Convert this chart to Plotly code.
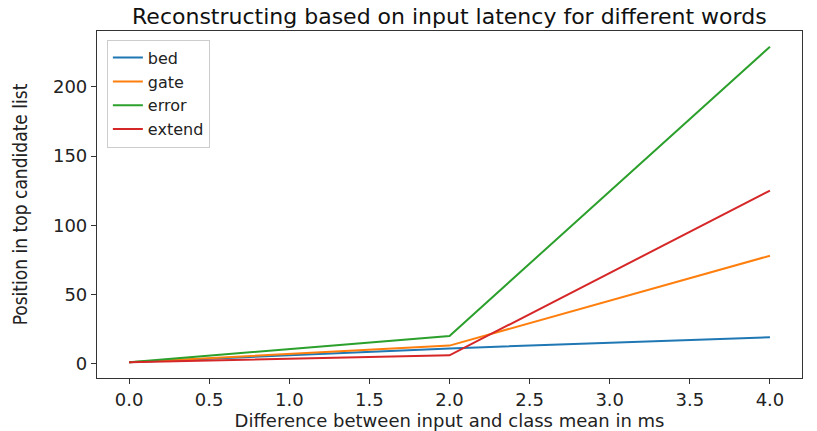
import plotly.graph_objects as go

x_vals = [0.0, 2.0, 4.0]
bed = [1, 11, 19]
gate = [1, 13, 78]
error = [1, 20, 229]
extend = [1, 6, 125]

series = [("bed", bed, "#1f77b4"), ("gate", gate, "#ff7f0e"),
          ("error", error, "#2ca02c"), ("extend", extend, "#d62728")]

fig = go.Figure()
for name, vals, color in series:
    fig.add_trace(go.Scatter(x=x_vals, y=vals, mode="lines", name=name,
                             line=dict(color=color, width=2)))

axis_common = dict(showline=True, linecolor="#333", linewidth=1.2, mirror=True,
                   ticks="outside", ticklen=5, tickcolor="#333", showgrid=False,
                   zeroline=False, automargin=False,
                   tickfont=dict(family="DejaVu Sans", size=18, color="#222"))

fig.update_layout(
    width=817, height=431,
    margin=dict(l=97, r=15, t=31, b=53),
    plot_bgcolor="white", paper_bgcolor="white",
    title=dict(text="Reconstructing based on input latency for different words",
               font=dict(family="DejaVu Sans", size=22, color="#111"),
               x=0.55, xanchor="center", y=0.962, yanchor="middle"),
    xaxis=dict(range=[-0.2, 4.2], dtick=0.5, tick0=0, tickformat=".1f",
               title=dict(text="Difference between input and class mean in ms",
                          font=dict(family="DejaVu Sans", size=18, color="#222"), standoff=4),
               **axis_common),
    yaxis=dict(range=[-10.4, 240.4], dtick=50, tick0=0,
               title=dict(text="Position in top candidate list",
                          font=dict(family="Liberation Sans Narrow, DejaVu Sans Condensed, DejaVu Sans", size=19, color="#222"),
                          standoff=20),
               **axis_common),
    legend=dict(x=0.014, y=0.975, xanchor="left", yanchor="top",
                bgcolor="white", bordercolor="#ccc", borderwidth=1,
                font=dict(family="DejaVu Sans", size=16, color="#222"),
                tracegroupgap=0),
    showlegend=True,
)

fig.write_html("out.html")
